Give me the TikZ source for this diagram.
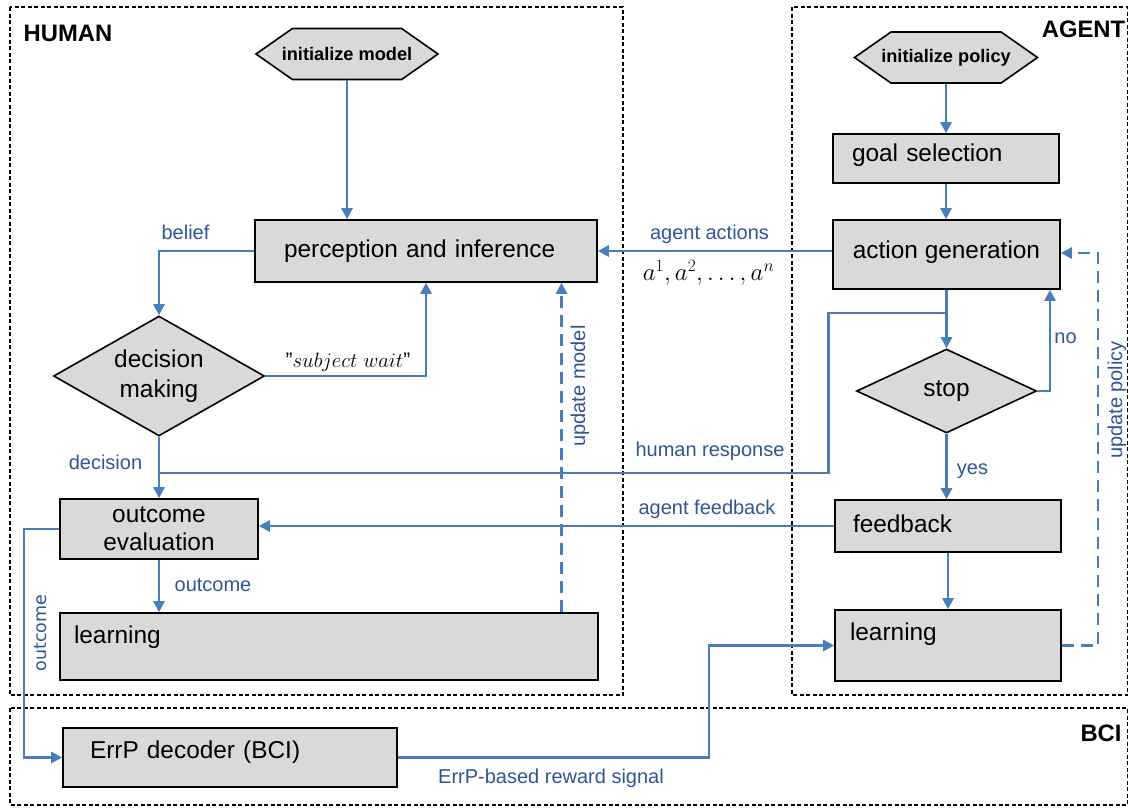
\documentclass[tikz,border=0pt]{standalone}
\usepackage{fontspec}
\setmainfont{Liberation Sans}
\newfontfamily\dejavu{DejaVu Sans}
\usetikzlibrary{arrows.meta,shapes.geometric,shapes.symbols}
\definecolor{flowblue}{HTML}{4A7EBB}
\definecolor{labelblue}{HTML}{2F5597}
\definecolor{boxgray}{HTML}{D9D9D9}
\begin{document}
\begin{tikzpicture}[x=1pt,y=-1pt,
  region/.style={draw=black, line width=1.3pt, dash pattern=on 4pt off 2.5pt},
  regionlabel/.style={font=\bfseries\fontsize{23.8}{28}\selectfont, inner sep=0pt},
  box/.style={draw=black, line width=1.6pt, fill=boxgray,
    font=\fontsize{24.4}{28}\selectfont, inner ysep=0pt},
  oneline/.style={text height=17pt, text depth=#1},
  oneline/.default=5pt,
  decision/.style={diamond, draw=black, line width=1.6pt, fill=boxgray,
    inner sep=0pt, align=center, font=\fontsize{24.4}{30}\selectfont},
  hexa/.style={signal, signal to=west and east, signal pointer angle=70,
    draw=black, line width=1.6pt, fill=boxgray, inner xsep=-11pt, inner ysep=0pt,
    font=\bfseries\fontsize{18.2}{22}\selectfont},
  flow/.style={draw=flowblue, line width=2.6pt, -{Triangle[length=11pt,width=11pt]}},
  plain/.style={draw=flowblue, line width=2.6pt},
  dflow/.style={flow, dash pattern=on 12pt off 7pt},
  lab/.style={text=labelblue, font=\fontsize{20}{24}\selectfont, inner sep=0pt},
]
\useasboundingbox (0,0) rectangle (1129,807);

% regions
\draw[region] (10,7) rectangle (623,695);
\draw[region] (792,7) rectangle (1127.5,695);
\draw[region] (10,708) rectangle (1127.5,805);
\node[regionlabel] (humanlbl) at (68,33) {HUMAN};
\node[regionlabel] (agentlbl) at (1083.5,29) {AGENT};
\node[regionlabel] (bcilbl) at (1101,733) {BCI};

% human side
\node[hexa, minimum width=182pt, minimum height=51pt] (initm) at (347,54) {initialize model};
\node[box, oneline, minimum width=342pt, minimum height=62pt, text width=284pt,
  inner xsep=29pt, align=left] (percep) at (426,251) {perception and inference};
\node[decision, minimum width=211pt, minimum height=120pt, aspect=1.76] (decide) at (159,376) {decision\\making};
\node[box, minimum width=198pt, minimum height=60pt, align=center,
  inner xsep=0pt] (outcome) at (159,529) {outcome\\evaluation};
\node[box, oneline=24pt, minimum width=538pt, minimum height=67pt, text width=510pt,
  inner xsep=14pt, align=left] (learnh) at (329,646.5) {learning};

% agent side
\node[hexa, minimum width=183pt, minimum height=51pt] (initp) at (946,57.5) {initialize policy};
\node[box, oneline=12pt, minimum width=226pt, minimum height=49pt, text width=188pt,
  inner xsep=19pt, align=left] (goal) at (946,158.5) {goal selection};
\node[box, oneline=10pt, minimum width=227pt, minimum height=69pt,
  inner xsep=0pt] (actgen) at (946.5,254.5) {action generation};
\node[decision, minimum width=180pt, minimum height=84pt, aspect=2.14] (stop) at (946.5,391) {stop};
\node[box, oneline, minimum width=226pt, minimum height=52pt, text width=190pt,
  inner xsep=18pt, align=left] (feedback) at (948,526) {feedback};
\node[box, oneline=28pt, minimum width=226pt, minimum height=71pt, text width=196pt,
  inner xsep=15pt, align=left] (learna) at (948,645.5) {learning};

% BCI
\node[box, oneline=16pt, minimum width=334pt, minimum height=59pt, text width=280pt,
  inner xsep=27pt, align=left] (errp) at (230,757.5) {ErrP decoder (BCI)};

% helper points for routed connectors
\coordinate (hrs) at (159,473);
\coordinate (hr1) at (828.5,473);
\coordinate (hr2) at (828.5,313);
\coordinate (umx) at (561.5,0);
\coordinate (nox) at (1050,0);
\coordinate (upx) at (1098,253);
\coordinate (ox) at (24,529);
\coordinate (rx) at (709,757.5);

% human connectors
\draw[flow] (initm.south) -- (initm.south |- percep.north);
\draw[flow] (percep.west) -| (decide.north);
\draw[flow] (decide.east) -| (percep.south);
\draw[flow] (decide.south) -- (outcome.north);
\draw[plain] (hrs) -- (hr1) -- (hr2) -- (actgen.south |- hr2);
\draw[flow] (outcome.south) -- (outcome.south |- learnh.north);
\draw[dflow] (learnh.north -| umx) -- (percep.south -| umx);
\draw[flow] (percep.east -| actgen.west) -- (percep.east);

% agent connectors
\draw[flow] (initp.south) -- (initp.south |- goal.north);
\draw[flow] (goal.south) -- (goal.south |- actgen.north);
\draw[flow] (actgen.south) -- (stop.north);
\draw[flow] (stop.east) -| (actgen.south -| nox);
\draw[flow] (stop.south) -- (stop.south |- feedback.north);
\draw[flow] (feedback.south) -- (learna.north);
\draw[flow] (feedback.west) -- (feedback.west -| outcome.east);
\draw[dflow] (learna.east) -| (upx) -- (upx -| actgen.east);

% BCI connectors
\draw[flow] (outcome.west) -- (ox) |- (errp.west);
\draw[flow] (errp.east) -- (rx) |- (learna.west);

% connector labels
\node[lab] (lbelief) at (185.5,232) {belief};
\node[inner sep=0pt, font=\fontsize{21}{25}\selectfont] (lwait) at (348,362) {"$subject\ wait$"};
\node[lab] (ldecision) at (105.5,462) {decision};
\node[lab] (lhuman) at (710,451) {human response};
\node[lab] (lactions) at (709.5,234) {agent actions};
\node[inner sep=0pt, font=\fontsize{25}{29}\selectfont] (lmath) at (708.5,273) {$a^1, a^2, \ldots, a^n$};
\node[lab] (lno) at (1065.5,338) {no};
\node[lab] (lyes) at (972.5,471) {yes};
\node[lab] (lfeedback) at (707,509) {agent feedback};
\node[lab] (loutcome) at (213,585) {outcome};
\node[lab, rotate=90] (lupm) at (580,386) {update model};
\node[lab, rotate=90] (lupp) at (1117,400) {update policy};
\node[lab, rotate=90, font=\dejavu\fontsize{17.5}{21}\selectfont] (loutv) at (40,633) {outcome};
\node[lab] (lreward) at (551,778) {ErrP-based reward signal};
\end{tikzpicture}
\end{document}
